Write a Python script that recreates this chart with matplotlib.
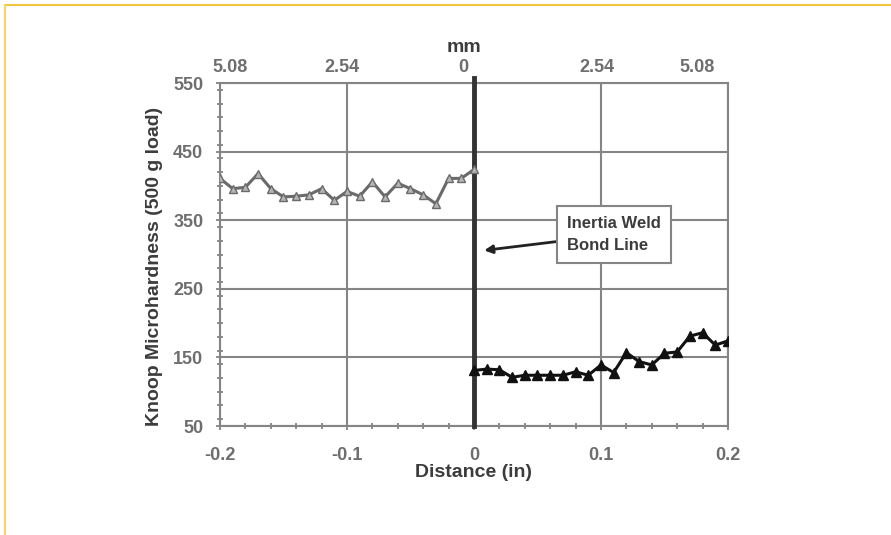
import numpy as np
import matplotlib.pyplot as plt
from matplotlib.lines import Line2D
from matplotlib.ticker import MultipleLocator

plt.rcParams['font.family'] = ['Liberation Sans', 'DejaVu Sans']

# distance from the bond line (in)
dist_left = [-0.20, -0.19, -0.18, -0.17, -0.16, -0.15, -0.14, -0.13, -0.12, -0.11, -0.10,
             -0.09, -0.08, -0.07, -0.06, -0.05, -0.04, -0.03, -0.02, -0.01, 0.00]
hard_left = [411, 396, 398, 418, 396, 384, 385, 387, 396, 379, 392,
             385, 406, 384, 404, 396, 387, 374, 411, 411, 424]

dist_right = [0.00, 0.01, 0.02, 0.03, 0.04, 0.05, 0.06, 0.07, 0.08, 0.09, 0.10,
              0.11, 0.12, 0.13, 0.14, 0.15, 0.16, 0.17, 0.18, 0.19, 0.20]
hard_right = [131, 133, 132, 121, 124, 124, 124, 124, 129, 124, 139,
              128, 157, 144, 139, 156, 158, 181, 186, 168, 174]

x_ticks = [-0.2, -0.1, 0.0, 0.1, 0.2]
x_labels = ['-0.2', '-0.1', '0', '0.1', '0.2']
# mm labels on top sit a little off the inch ticks in the original
mm_label_pos = [-0.192, -0.104, -0.008, 0.097, 0.176]
mm_labels = ['5.08', '2.54', '0', '2.54', '5.08']
y_ticks = [50, 150, 250, 350, 450, 550]

grey = '#858585'
tick_grey = '#6e6e6e'
text_dark = '#3c3c3c'

fig = plt.figure(figsize=(8.91, 5.35), dpi=100)
ax = fig.add_axes([0.2469, 0.2037, 0.5701, 0.6411])

ax.set_xlim(-0.2, 0.2)
ax.set_ylim(50, 550)
ax.set_xticks(x_ticks)
ax.set_xticklabels(x_labels)
ax.set_yticks(y_ticks)
ax.xaxis.set_minor_locator(MultipleLocator(0.02))
ax.yaxis.set_minor_locator(MultipleLocator(20))
ax.tick_params(which='both', direction='inout', color=grey, width=1.3)
ax.tick_params(which='major', length=6, labelsize=13, labelcolor=tick_grey)
ax.tick_params(axis='x', which='major', pad=12)
ax.tick_params(axis='y', which='major', pad=9)
ax.tick_params(which='minor', length=4)
for lab in ax.get_xticklabels() + ax.get_yticklabels():
    lab.set_fontweight('bold')

for s in ax.spines.values():
    s.set_color(grey)
    s.set_linewidth(1.5)
ax.grid(True, which='major', color=grey, linewidth=1.5)
ax.set_axisbelow(True)

# bond line
ax.axvline(0, ymin=0, ymax=1.015, color='#333333', linewidth=3.5, clip_on=False, zorder=3)

ax.plot(dist_left, hard_left, color='#6a6a6a', linewidth=2.2, marker='^', markersize=6,
        markerfacecolor='#b5b5b5', markeredgecolor='#6a6a6a', zorder=4)
ax.plot(dist_right, hard_right, color='#111111', linewidth=2.2, marker='^', markersize=6.5,
        markerfacecolor='#111111', markeredgecolor='#111111', zorder=4)

ax.annotate('Inertia Weld\nBond Line', xy=(0.008, 306), xytext=(0.073, 329),
            fontsize=12, fontweight='bold', color=text_dark, ha='left', va='center',
            linespacing=1.6,
            bbox=dict(boxstyle='square,pad=0.6', facecolor='white', edgecolor=grey, linewidth=1.5),
            arrowprops=dict(arrowstyle='-|>', color='#222222', linewidth=2, mutation_scale=12,
                            shrinkA=0, shrinkB=0),
            zorder=5)

ax.set_xlabel('Distance (in)', fontsize=14, fontweight='bold', color=text_dark, labelpad=0)
ax.set_ylabel('Knoop Microhardness (500 g load)', fontsize=14, fontweight='bold',
              color=text_dark)
ax.yaxis.set_label_coords(-0.112, 0.466)

top = ax.twiny()
top.set_xlim(ax.get_xlim())
top.set_xticks(mm_label_pos)
top.set_xticklabels(mm_labels, fontsize=13, fontweight='bold', color=tick_grey)
top.tick_params(length=0, pad=5)
for s in top.spines.values():
    s.set_visible(False)
top.set_xlabel('mm', fontsize=14, fontweight='bold', color=text_dark)
top.xaxis.set_label_coords(0.48, 1.09)

# page frame
fig.add_artist(Line2D([0.0056, 1.0], [0.9907, 0.9907], transform=fig.transFigure,
                      color='#f0c33c', linewidth=1.5))
fig.add_artist(Line2D([0.0056, 0.0056], [0.0, 0.9907], transform=fig.transFigure,
                      color='#f7d56a', linewidth=1.5))

fig.savefig('out.png', dpi=100)
